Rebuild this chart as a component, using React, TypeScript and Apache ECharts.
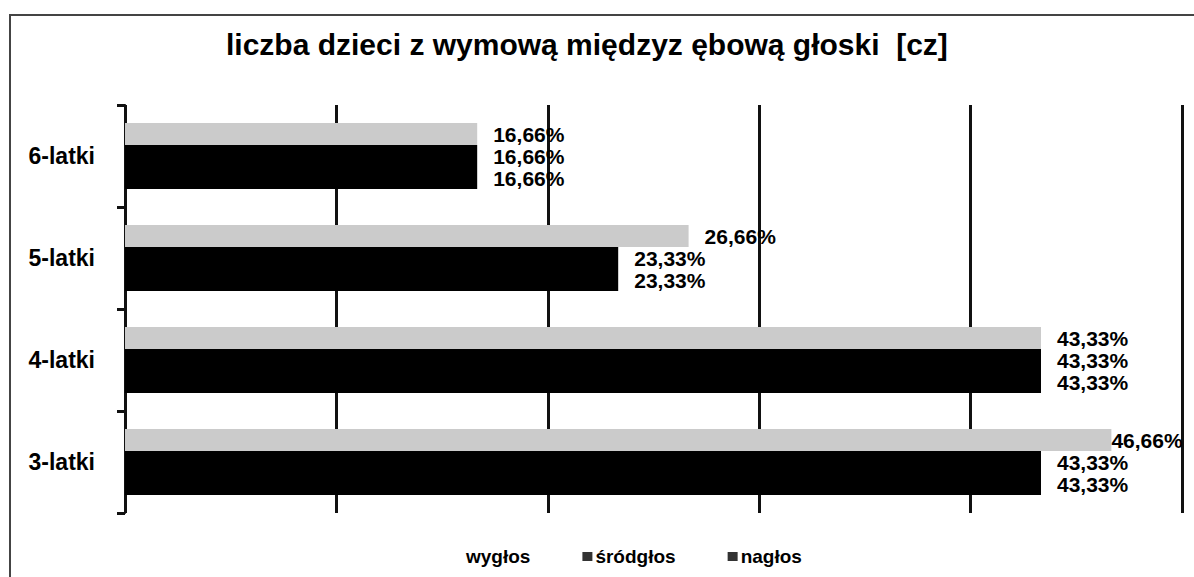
import React, { useEffect, useRef } from "react";
import * as echarts from "echarts";

const titleText = "liczba dzieci z wymową międzyz ębową głoski  [cz]";
const categories = ["3-latki", "4-latki", "5-latki", "6-latki"];
const seriesNames = ["wygłos", "śródgłos", "nagłos"];
const wyglos = [46.66, 43.33, 26.66, 16.66];
const srodglos = [43.33, 43.33, 23.33, 16.66];
const naglos = [43.33, 43.33, 23.33, 16.66];
const xMin = 0;
const xMax = 50;
const xInterval = 10;

const FONT = "'Liberation Sans', Arial, sans-serif";

const fmt = (v: number) => v.toFixed(2).replace(".", ",") + "%";

export default function App() {
  const ref = useRef<HTMLDivElement>(null);
  useEffect(() => {
    if (!ref.current) return;
    const chart = echarts.init(ref.current, undefined, { renderer: "svg" });
    const gridLeft = 125;
    const gridRight = 12;
    const plotW = 1194 - gridLeft - gridRight;
    const labelDist = 16;
    const labelW = 74;
    const itemData = (vals: number[]) =>
      vals.map((v) => {
        const end = gridLeft + ((v - xMin) / (xMax - xMin)) * plotW;
        if (end + labelDist + labelW > 1194) {
          return { value: v, label: { distance: 0 } };
        }
        return v;
      });
    const labelCfg = {
      show: true,
      position: "right",
      distance: labelDist,
      color: "#000",
      fontFamily: FONT,
      fontWeight: "bold",
      fontSize: 21,
      lineHeight: 20,
      formatter: (p: any) => fmt(typeof p.value === "number" ? p.value : p.value.value),
    };
    const colors = ["#cbcbcb", "#000000", "#000000"];
    const vals = [wyglos, srodglos, naglos];
    const option: any = {
      animation: false,
      backgroundColor: "#ffffff",
      title: {
        text: titleText,
        left: 226,
        top: 29,
        padding: 0,
        textStyle: { fontFamily: FONT, fontWeight: "bold", fontSize: 30, color: "#000" },
      },
      graphic: [
        {
          type: "rect",
          shape: { x: 10, y: 15, width: 1300, height: 700 },
          style: { fill: "none", stroke: "#444", lineWidth: 2 },
          silent: true,
        },
      ],
      legend: {
        left: 448,
        top: 542,
        itemWidth: 10,
        itemHeight: 9,
        itemGap: 52,
        icon: "rect",
        textStyle: { fontFamily: FONT, fontWeight: "bold", fontSize: 19, color: "#000", padding: [0, 0, 0, -2] },
        data: [
          { name: seriesNames[0], itemStyle: { color: "#ffffff", borderWidth: 0 } },
          { name: seriesNames[1], itemStyle: { color: "#333333", borderWidth: 0 } },
          { name: seriesNames[2], itemStyle: { color: "#333333", borderWidth: 0 } },
        ],
      },
      grid: { left: gridLeft, right: gridRight, top: 105, bottom: 64, containLabel: false },
      xAxis: {
        type: "value",
        min: xMin,
        max: xMax,
        interval: xInterval,
        axisLine: { show: false },
        axisTick: { show: false },
        axisLabel: { show: false },
        splitLine: { show: true, lineStyle: { color: "#111", width: 3 } },
      },
      yAxis: {
        type: "category",
        data: categories,
        axisLine: { show: true, lineStyle: { color: "#111", width: 2 } },
        axisTick: { show: true, length: 8, lineStyle: { color: "#111", width: 3 } },
        axisLabel: {
          margin: 30,
          color: "#000",
          fontFamily: FONT,
          fontWeight: "bold",
          fontSize: 23,
        },
      },
      series: seriesNames.map((name, i) => ({
        name,
        type: "bar",
        data: itemData(vals[i]),
        itemStyle: { color: colors[i] },
        barGap: "0%",
        barWidth: 22,
        label: labelCfg,
      })),
    };
    chart.setOption(option);
    return () => chart.dispose();
  }, []);
  return (
    <div
      ref={ref}
      style={{ position: "fixed", left: 0, top: 0, width: 1194, height: 577, background: "#fff" }}
    />
  );
}
